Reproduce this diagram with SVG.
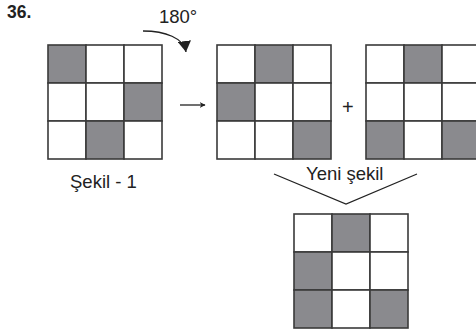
<svg xmlns="http://www.w3.org/2000/svg" width="476" height="330" viewBox="0 0 476 330">
<defs>
<style>
.c{fill:#fff;stroke:#3a3a3a;stroke-width:1.6}
.g{fill:#8a8a8e;stroke:#3a3a3a;stroke-width:1.6}
.t{font-family:"Liberation Sans",Arial,sans-serif;font-size:18.5px;fill:#222}
.ln{fill:none;stroke:#222;stroke-width:1.3}
</style>
<marker id="ah" viewBox="0 0 10 10" refX="9" refY="5" markerWidth="6" markerHeight="6" orient="auto" markerUnits="userSpaceOnUse">
<path d="M0,0 L10,5 L0,10 L3,5 z" fill="#222"/>
</marker>
<marker id="ah2" viewBox="0 0 10 12" refX="10" refY="6" markerWidth="11" markerHeight="14" orient="auto" markerUnits="userSpaceOnUse">
<path d="M0,0 L10,6 L0,12 z" fill="#222"/>
</marker>
</defs>
<rect width="476" height="330" fill="#fff"/>
<text x="7" y="18" style="font-family:'Liberation Sans',Arial,sans-serif;font-size:17.5px;font-weight:bold;fill:#222">36.</text>
<text class="t" x="159" y="23">180°</text>
<text class="t" x="70" y="188">Şekil - 1</text>
<text class="t" x="306" y="180">Yeni şekil</text>
<text class="t" x="342" y="114" style="font-size:20px">+</text>
<g id="connectors">
<path class="ln" d="M143,31 C165,31 184,38 186,52" marker-end="url(#ah2)"/>
<line class="ln" x1="180" y1="105" x2="205" y2="105" marker-end="url(#ah)"/>
<polyline class="ln" points="274,174 346,204 417,174"/>
</g>
<g id="sekil1">
<rect class="g" x="48" y="45" width="38" height="38"/>
<rect class="c" x="86" y="45" width="38" height="38"/>
<rect class="c" x="124" y="45" width="38" height="38"/>
<rect class="c" x="48" y="83" width="38" height="38"/>
<rect class="c" x="86" y="83" width="38" height="38"/>
<rect class="g" x="124" y="83" width="38" height="38"/>
<rect class="c" x="48" y="121" width="38" height="38"/>
<rect class="g" x="86" y="121" width="38" height="38"/>
<rect class="c" x="124" y="121" width="38" height="38"/>
</g>
<g id="rotated">
<rect class="c" x="217" y="45" width="38" height="38"/>
<rect class="g" x="255" y="45" width="38" height="38"/>
<rect class="c" x="293" y="45" width="38" height="38"/>
<rect class="g" x="217" y="83" width="38" height="38"/>
<rect class="c" x="255" y="83" width="38" height="38"/>
<rect class="c" x="293" y="83" width="38" height="38"/>
<rect class="c" x="217" y="121" width="38" height="38"/>
<rect class="c" x="255" y="121" width="38" height="38"/>
<rect class="g" x="293" y="121" width="38" height="38"/>
</g>
<g id="third">
<rect class="c" x="366" y="45" width="38" height="38"/>
<rect class="g" x="404" y="45" width="38" height="38"/>
<rect class="c" x="442" y="45" width="38" height="38"/>
<rect class="c" x="366" y="83" width="38" height="38"/>
<rect class="c" x="404" y="83" width="38" height="38"/>
<rect class="c" x="442" y="83" width="38" height="38"/>
<rect class="g" x="366" y="121" width="38" height="38"/>
<rect class="c" x="404" y="121" width="38" height="38"/>
<rect class="g" x="442" y="121" width="38" height="38"/>
</g>
<g id="yeni">
<rect class="c" x="294" y="214" width="38" height="38"/>
<rect class="g" x="332" y="214" width="38" height="38"/>
<rect class="c" x="370" y="214" width="38" height="38"/>
<rect class="g" x="294" y="252" width="38" height="38"/>
<rect class="c" x="332" y="252" width="38" height="38"/>
<rect class="c" x="370" y="252" width="38" height="38"/>
<rect class="g" x="294" y="290" width="38" height="38"/>
<rect class="c" x="332" y="290" width="38" height="38"/>
<rect class="g" x="370" y="290" width="38" height="38"/>
</g>
</svg>
